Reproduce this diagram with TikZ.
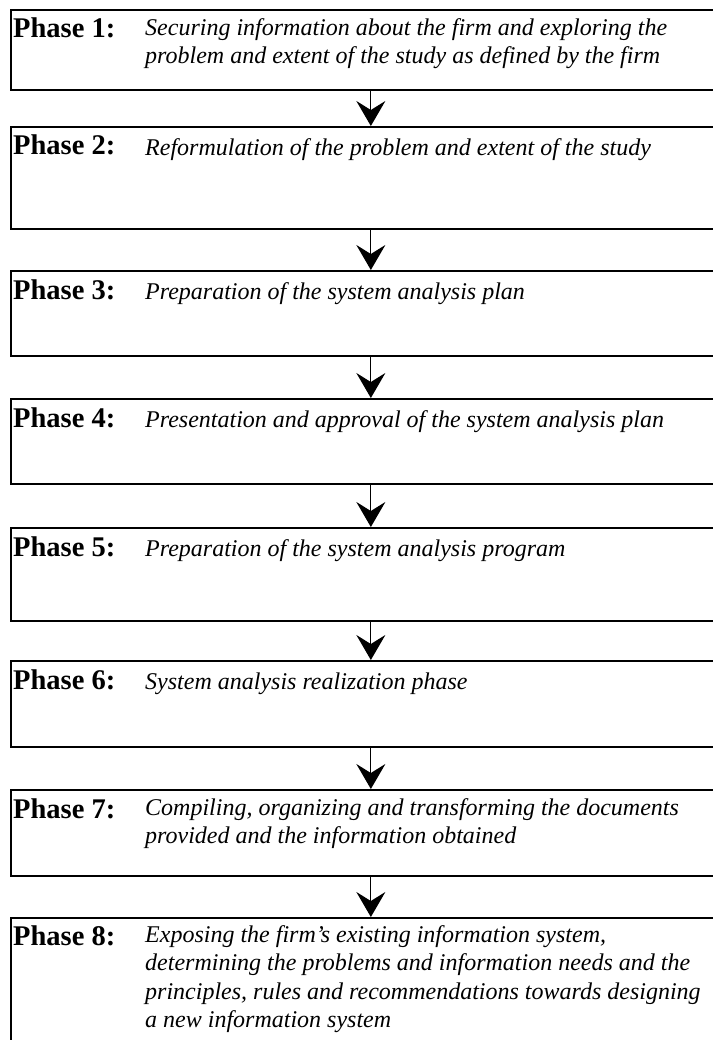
\documentclass[tikz,border=0pt]{standalone}
\usepackage{fontspec}
\setmainfont{Liberation Serif}
\usetikzlibrary{arrows.meta}
\tikzset{
  phasebox/.style={draw, line width=1.7pt, anchor=north west, inner sep=0pt, minimum width=720pt},
  phasename/.style={anchor=base west, inner sep=0pt, font=\fontsize{28.5}{28.5}\selectfont\bfseries},
  phasetext/.style={anchor=north west, yshift=19.95pt, inner sep=0pt, align=left,
    execute at begin node=\strut, font=\fontsize{24}{28.5}\selectfont\itshape},
  flow/.style={line width=1.2pt, -{Stealth[length=25pt, width=29pt, inset=9pt]}}
}
\begin{document}
\begin{tikzpicture}[x=1pt, y=-1pt]
  \useasboundingbox (0,0) rectangle (712,1040);
  \draw
    (10,9) node[phasebox, minimum height=80pt] (b1){}
    (10,126) node[phasebox, minimum height=102pt] (b2){}
    (10,270) node[phasebox, minimum height=85pt] (b3){}
    (10,398) node[phasebox, minimum height=85pt] (b4){}
    (10,527) node[phasebox, minimum height=93pt] (b5){}
    (10,660) node[phasebox, minimum height=86pt] (b6){}
    (10,789) node[phasebox, minimum height=86pt] (b7){}
    (10,917) node[phasebox, minimum height=160pt] (b8){};
  \draw
    (13,38) node[phasename] (n1){Phase 1:}
    (13,155) node[phasename] (n2){Phase 2:}
    (13,299) node[phasename] (n3){Phase 3:}
    (13,427) node[phasename] (n4){Phase 4:}
    (13,556) node[phasename] (n5){Phase 5:}
    (13,689) node[phasename] (n6){Phase 6:}
    (13,818) node[phasename] (n7){Phase 7:}
    (13,945) node[phasename] (n8){Phase 8:};
  \draw
    (145,38) node[phasetext] (t1){Securing information about the firm and exploring the\\
      problem and extent of the study as defined by the firm}
    (145,155) node[phasetext] (t2){Reformulation of the problem and extent of the study}
    (145,299) node[phasetext] (t3){Preparation of the system analysis plan}
    (145,427) node[phasetext] (t4){Presentation and approval of the system analysis plan}
    (145,556) node[phasetext] (t5){Preparation of the system analysis program}
    (145,689) node[phasetext] (t6){System analysis realization phase}
    (145,818) node[phasetext] (t7){Compiling, organizing and transforming the documents\\
      provided and the information obtained}
    (145,945) node[phasetext] (t8){Exposing the firm’s existing information system,\\
      determining the problems and information needs and the\\
      principles, rules and recommendations towards designing\\
      a new information system};
  \begin{scope}[flow]
    \draw (b1.south) to (b2.north);
    \draw (b2.south) to (b3.north);
    \draw (b3.south) to (b4.north);
    \draw (b4.south) to (b5.north);
    \draw (b5.south) to (b6.north);
    \draw (b6.south) to (b7.north);
    \draw (b7.south) to (b8.north);
  \end{scope}
\end{tikzpicture}
\end{document}
